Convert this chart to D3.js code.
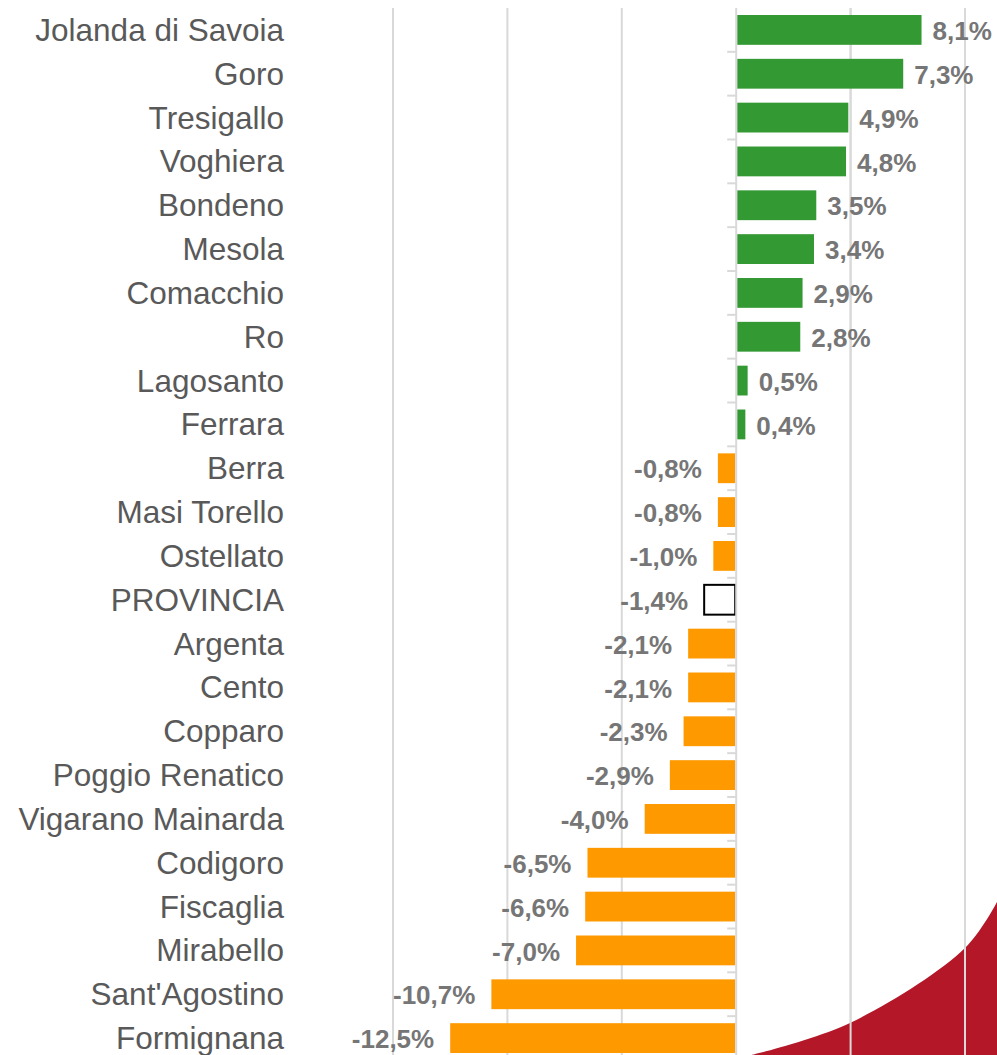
<!DOCTYPE html>
<meta charset="utf-8">
<style>
body { margin: 0; background: #fff; }
#grafico text { font-family: "Liberation Sans", Arial, sans-serif; }
#grafico .cat { fill: #595959; font-size: 31.5px; text-anchor: end; }
#grafico .val { fill: #767676; font-size: 26px; font-weight: bold; }
</style>
<svg id="grafico"></svg>
<script src="https://cdnjs.cloudflare.com/ajax/libs/d3/7.8.5/d3.min.js"></script>
<script>

var comuni = ["Jolanda di Savoia", "Goro", "Tresigallo", "Voghiera", "Bondeno", "Mesola",
  "Comacchio", "Ro", "Lagosanto", "Ferrara", "Berra", "Masi Torello", "Ostellato",
  "PROVINCIA", "Argenta", "Cento", "Copparo", "Poggio Renatico", "Vigarano Mainarda",
  "Codigoro", "Fiscaglia", "Mirabello", "Sant'Agostino", "Formignana"];

var variazioni = [8.1, 7.3, 4.9, 4.8, 3.5, 3.4, 2.9, 2.8, 0.5, 0.4, -0.8, -0.8, -1.0,
  -1.4, -2.1, -2.1, -2.3, -2.9, -4.0, -6.5, -6.6, -7.0, -10.7, -12.5];

var griglia = [-15, -10, -5, 5, 10];

var width = 997,
    height = 1055;

var data = comuni.map(function(c, i) { return { nome: c, v: variazioni[i] }; });

var x = d3.scaleLinear()
    .domain([-15, 10])
    .range([393, 965]);

var y = d3.scaleBand()
    .domain(comuni)
    .range([8, 1060])
    .paddingInner(0.32)
    .paddingOuter(0.16);

var svg = d3.select("#grafico")
    .attr("width", width)
    .attr("height", height);

// griglia verticale
svg.selectAll("line.grid")
    .data(griglia)
  .enter().append("line")
    .attr("class", "grid")
    .attr("x1", function(d) { return x(d); })
    .attr("x2", function(d) { return x(d); })
    .attr("y1", 8)
    .attr("y2", height)
    .attr("stroke", "#d9d9d9")
    .attr("stroke-width", 2);

// forma decorativa in basso a destra
var curva = d3.line().curve(d3.curveCatmullRom);
var bordo = [[752, 1055], [850, 1023], [965, 948], [997, 902]];
svg.append("path")
    .attr("d", curva(bordo) + "L997,1055Z")
    .attr("fill", "#b41728");

// griglia sopra la forma rossa
svg.selectAll("line.grid2")
    .data(griglia.filter(function(d) { return d > 0; }))
  .enter().append("line")
    .attr("x1", function(d) { return x(d); })
    .attr("x2", function(d) { return x(d); })
    .attr("y1", 8)
    .attr("y2", height)
    .attr("stroke", "#d9d9d9")
    .attr("stroke-width", 2);

var bar = svg.selectAll("g.bar")
    .data(data)
  .enter().append("g")
    .attr("class", "bar");

bar.append("rect")
    .attr("x", function(d) { return d.v >= 0 ? x(0) + 1 : x(d.v); })
    .attr("y", function(d) { return y(d.nome); })
    .attr("width", function(d) { return Math.abs(x(d.v) - x(0)) - 1; })
    .attr("height", y.bandwidth())
    .attr("fill", function(d) {
      if (d.nome == "PROVINCIA") return "#fff";
      return d.v >= 0 ? "#339933" : "#ff9900";
    })
    .attr("stroke", function(d) { return d.nome == "PROVINCIA" ? "#000" : "none"; })
    .attr("stroke-width", 2);

bar.append("text")
    .attr("class", "val")
    .attr("x", function(d) { return d.v >= 0 ? x(d.v) + 11 : x(d.v) - 16; })
    .attr("y", function(d) { return y(d.nome) + y.bandwidth() / 2 + 1; })
    .attr("dy", ".35em")
    .attr("text-anchor", function(d) { return d.v >= 0 ? "start" : "end"; })
    .text(function(d) { return d.v.toFixed(1).replace(".", ",") + "%"; });

// asse dello zero
var asse = svg.append("g")
    .attr("transform", "translate(" + x(0) + ",0)");
asse.append("line")
    .attr("y1", 8).attr("y2", height)
    .attr("stroke", "#d9d9d9").attr("stroke-width", 2);
asse.selectAll("line.tk")
    .data(d3.range(1, comuni.length))
  .enter().append("line")
    .attr("x1", -9).attr("x2", 0)
    .attr("y1", function(i) { return y.range()[0] + i * y.step(); })
    .attr("y2", function(i) { return y.range()[0] + i * y.step(); })
    .attr("stroke", "#d9d9d9").attr("stroke-width", 2);

// etichette categorie
svg.selectAll("text.cat")
    .data(comuni)
  .enter().append("text")
    .attr("class", "cat")
    .attr("x", 284)
    .attr("y", function(d) { return y(d) + y.bandwidth() / 2; })
    .attr("dy", ".35em")
    .text(function(d) { return d; });

</script>
